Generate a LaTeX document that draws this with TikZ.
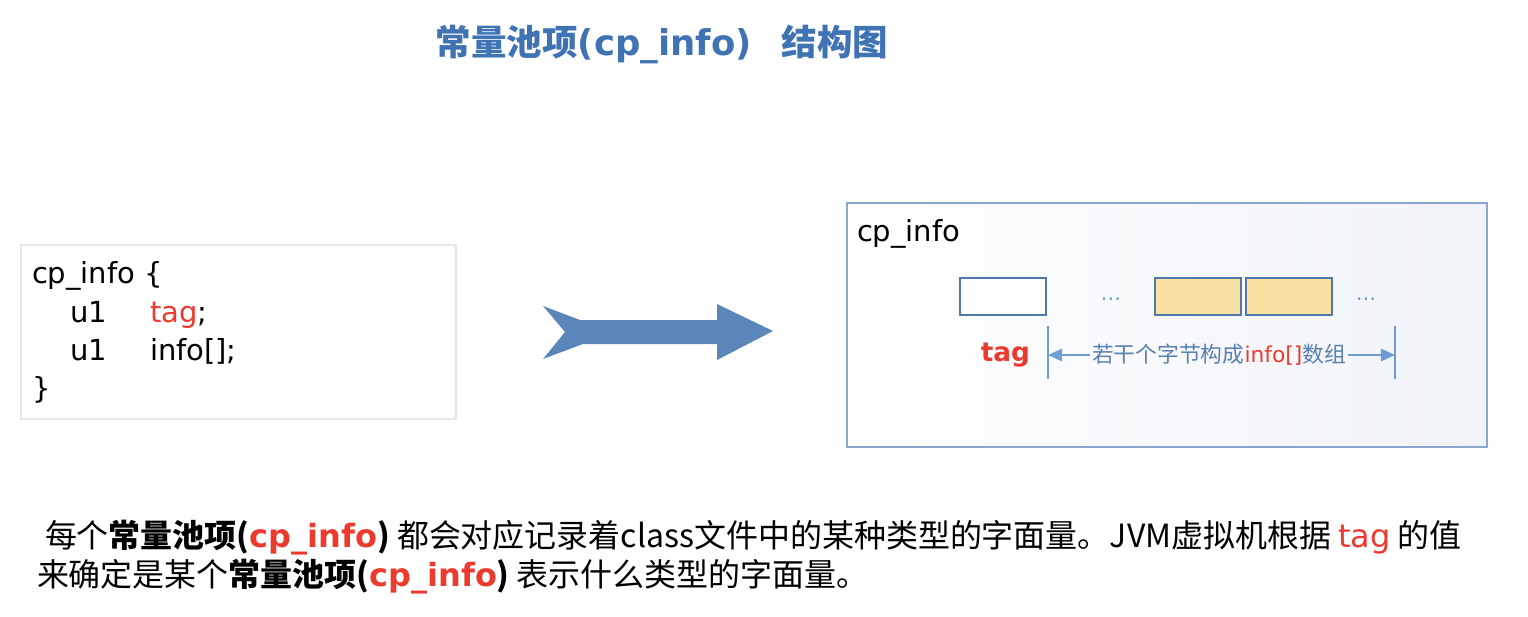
\documentclass[tikz,border=0pt]{standalone}
\usepackage{fontspec}
\setmainfont{DejaVu Sans}
\newfontfamily\cjk{Noto Sans CJK SC}
\usepackage{xcolor}
\usetikzlibrary{arrows.meta,positioning}

\definecolor{titleblue}{HTML}{3F73B3}
\definecolor{arrowblue}{HTML}{5A86B9}
\definecolor{boxline}{HTML}{4F79AC}
\definecolor{dimblue}{HTML}{6F9CD1}
\definecolor{dimtext}{HTML}{5A80B2}
\definecolor{byteyellow}{HTML}{F9E2A1}
\definecolor{tagred}{HTML}{EC3A2E}
\definecolor{frameblue}{HTML}{88A6CE}
\definecolor{codeframe}{HTML}{E1E6EF}
\definecolor{panelblue}{HTML}{F0F3F9}

\newcommand\redbf[1]{{\bfseries\color{tagred}#1}}

\begin{document}
\begin{tikzpicture}[x=0.02cm, y=-0.02cm,
  every node/.style={inner sep=0pt, outer sep=0pt},
  codeline/.style={anchor=base west, font=\fontsize{16.5}{20}\selectfont},
  bytebox/.style={draw=boxline, line width=1.1pt, minimum width=1.72cm, minimum height=0.74cm},
  dots/.style={text=dimblue, font=\fontsize{12}{14}\selectfont},
  bottomline/.style={anchor=base west, font=\cjk\fontsize{18.2}{22}\selectfont}]
  \useasboundingbox (0,0) rectangle (1528,616);

  % title
  \node[anchor=base, text=titleblue, font=\fontsize{20.2}{24}\selectfont\bfseries] (title) at (662,55)
    {{\cjk 常量池项}(cp\_info)\hspace{0.6cm}{\cjk 结构图}};

  % left: structure definition
  \node[draw=codeframe, line width=0.9pt, fill=white, anchor=north west,
        minimum width=8.7cm, minimum height=3.48cm] (codebox) at (21,245) {};
  \node[codeline] (c1) at (32,283) {cp\_info \{};
  \node[codeline] (c2) at (70,322) {u1};
  \node[codeline, text=tagred] (c2b) at (150,322) {tag};
  \node[codeline, anchor=base west] at (c2b.base east) {;};
  \node[codeline] (c3) at (70,360) {u1};
  \node[codeline] (c3b) at (150,360) {info[];};
  \node[codeline] (c4) at (32,398) {\}};

  % big arrow
  \fill[arrowblue] (543,306) -- (580,320) -- (717,320) -- (717,304) -- (773,331)
    -- (717,360) -- (717,344) -- (583,344) -- (543,359) -- (565,332) -- cycle;

  % right: cp_info layout
  \node[draw=frameblue, line width=0.9pt, left color=white, right color=panelblue, anchor=north west,
        minimum width=12.8cm, minimum height=4.88cm] (infobox) at (847,203) {};
  \node[codeline] (infotitle) at (857,241) {cp\_info};

  \node[bytebox, fill=white] (tagbox) at (1003,296.5) {};
  \node[bytebox, fill=byteyellow] (byteA) at (1198,296.5) {};
  \node[bytebox, fill=byteyellow, right=0.1cm of byteA] (byteB) {};
  \node[dots] (dotsA) at (1111,299) {...};
  \node[dots] (dotsB) at (1366,299) {...};

  \node[anchor=base east, text=tagred, font=\fontsize{15}{18}\selectfont\bfseries] (taglabel) at (1030,361) {tag};

  \coordinate (dimL) at (1048,355);
  \coordinate (dimR) at (1395,355);
  \draw[dimblue, line width=0.9pt] (dimL) ++(0,-29) -- ++(0,53);
  \draw[dimblue, line width=0.9pt] (dimR) ++(0,-29) -- ++(0,53);
  \node[text=dimtext, font=\cjk\fontsize{12.4}{14}\selectfont] (dimlabel) at (1219,355)
    {若干个字节构成{\fontspec{DejaVu Sans}\color{tagred}info[]}数组};
  \draw[dimblue, line width=1.2pt, -{Triangle[length=8pt,width=7pt]}] ([xshift=-1pt]dimlabel.west) -- (dimL);
  \draw[dimblue, line width=1.2pt, -{Triangle[length=8pt,width=7pt]}] ([xshift=1pt]dimlabel.east) -- (dimR);

  % explanation
  \node[bottomline] (note1) at (45,547)
    {每个{\bfseries 常量池项(}\redbf{\fontspec{DejaVu Sans}cp\_info}{\bfseries )} 都会对应记录着class文件中的某种类型的字面量。JVM虚拟机根据 {\fontspec{DejaVu Sans}\color{tagred}tag} 的值};
  \node[bottomline] (note2) at (37,586)
    {来确定是某个{\bfseries 常量池项(}\redbf{\fontspec{DejaVu Sans}cp\_info}{\bfseries )} 表示什么类型的字面量。};
\end{tikzpicture}
\end{document}
